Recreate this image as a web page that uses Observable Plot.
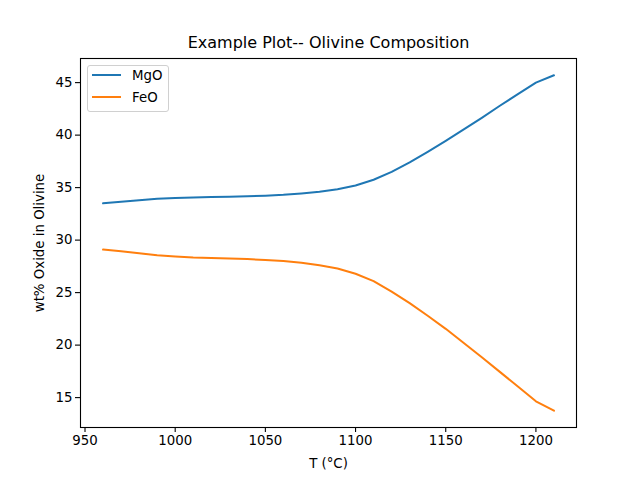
<!DOCTYPE html>
<html>
<head>
<meta charset="utf-8">
<script src="https://cdn.jsdelivr.net/npm/d3@7"></script>
<script src="https://cdn.jsdelivr.net/npm/@observablehq/plot@0.6"></script>
<style>
  html, body { margin: 0; padding: 0; background: #fff; }
  #wrap { position: relative; width: 640px; height: 480px; font-family: "DejaVu Sans", sans-serif; }
  #legend { position: absolute; left: 87px; top: 65px; width: 80px; height: 45px; border: 1px solid #d0d0d0; border-radius: 3px; background: rgba(255,255,255,0.8); font-size: 13.33px; }
  .item { position: absolute; left: 4px; height: 16px; display: flex; align-items: center; }
  .item svg { margin-right: 11px; }
</style>
</head>
<body>
<div id="wrap"></div>
<script>
const temps = [960, 970, 980, 990, 1000, 1010, 1020, 1030, 1040, 1050, 1060, 1070, 1080, 1090, 1100, 1110, 1120, 1130, 1140, 1150, 1160, 1170, 1180, 1190, 1200, 1210];
const mgo = [33.5, 33.65, 33.8, 33.95, 34.0, 34.07, 34.1, 34.13, 34.17, 34.23, 34.32, 34.45, 34.6, 34.85, 35.2, 35.75, 36.5, 37.4, 38.4, 39.45, 40.55, 41.65, 42.8, 43.9, 45.0, 45.7];
const feo = [29.1, 28.95, 28.75, 28.55, 28.45, 28.35, 28.3, 28.25, 28.2, 28.1, 28.0, 27.85, 27.6, 27.3, 26.8, 26.1, 25.1, 24.0, 22.8, 21.55, 20.2, 18.85, 17.45, 16.05, 14.65, 13.75];
const seriesNames = ["MgO", "FeO"];
const seriesColors = ["#1f77b4", "#ff7f0e"];
const xTicks = [950, 1000, 1050, 1100, 1150, 1200];
const yTicks = [15, 20, 25, 30, 35, 40, 45];
const titleText = "Example Plot-- Olivine Composition";
const xLabel = "T (°C)";
const yLabel = "wt% Oxide in Olivine";

const rows = [];
temps.forEach((t, i) => {
  rows.push({T: t, v: mgo[i], s: seriesNames[0]});
  rows.push({T: t, v: feo[i], s: seriesNames[1]});
});

const allV = mgo.concat(feo);
const xmin = d3.min(temps), xmax = d3.max(temps);
const ymin = d3.min(allV), ymax = d3.max(allV);
const xm = (xmax - xmin) * 0.05, ym = (ymax - ymin) * 0.05;

const chart = Plot.plot({
  width: 640,
  height: 480,
  marginLeft: 80,
  marginRight: 64,
  marginTop: 58,
  marginBottom: 53,
  style: {fontFamily: "DejaVu Sans, sans-serif", fontSize: "13.33px", color: "#000", background: "#fff"},
  x: {domain: [xmin - xm, xmax + xm]},
  y: {domain: [ymin - ym, ymax + ym]},
  color: {domain: seriesNames, range: seriesColors},
  marks: [
    Plot.line(rows, {x: "T", y: "v", z: "s", stroke: "s", strokeWidth: 2}),
    Plot.frame({stroke: "#000", strokeWidth: 1.1}),
    Plot.axisX({ticks: xTicks, tickFormat: d => String(d), tickSize: 5, tickPadding: 3, label: null, fontSize: 13.33, strokeWidth: 1.1}),
    Plot.axisY({ticks: yTicks, tickFormat: d => String(d), tickSize: 5, tickPadding: 3, label: null, fontSize: 13.33, strokeWidth: 1.1}),
    Plot.text([titleText], {frameAnchor: "top", lineAnchor: "middle", dy: -16, fontSize: 16, fill: "#000"}),
    Plot.text([xLabel], {frameAnchor: "bottom", lineAnchor: "middle", dy: 36, fontSize: 13.33, fill: "#000"}),
    Plot.text([yLabel], {frameAnchor: "left", textAnchor: "middle", lineAnchor: "middle", dx: -41, rotate: -90, fontSize: 13.33, fill: "#000"})
  ]
});

const wrap = document.getElementById("wrap");
wrap.appendChild(chart);

const legend = document.createElement("div");
legend.id = "legend";
seriesNames.forEach((name, i) => {
  const item = document.createElement("div");
  item.className = "item";
  item.style.top = (1 + i * 22) + "px";
  item.innerHTML = `<svg width="29" height="4"><line x1="0" y1="2" x2="29" y2="2" stroke="${seriesColors[i]}" stroke-width="2"/></svg><span>${name}</span>`;
  legend.appendChild(item);
});
wrap.appendChild(legend);
</script>
</body>
</html>
